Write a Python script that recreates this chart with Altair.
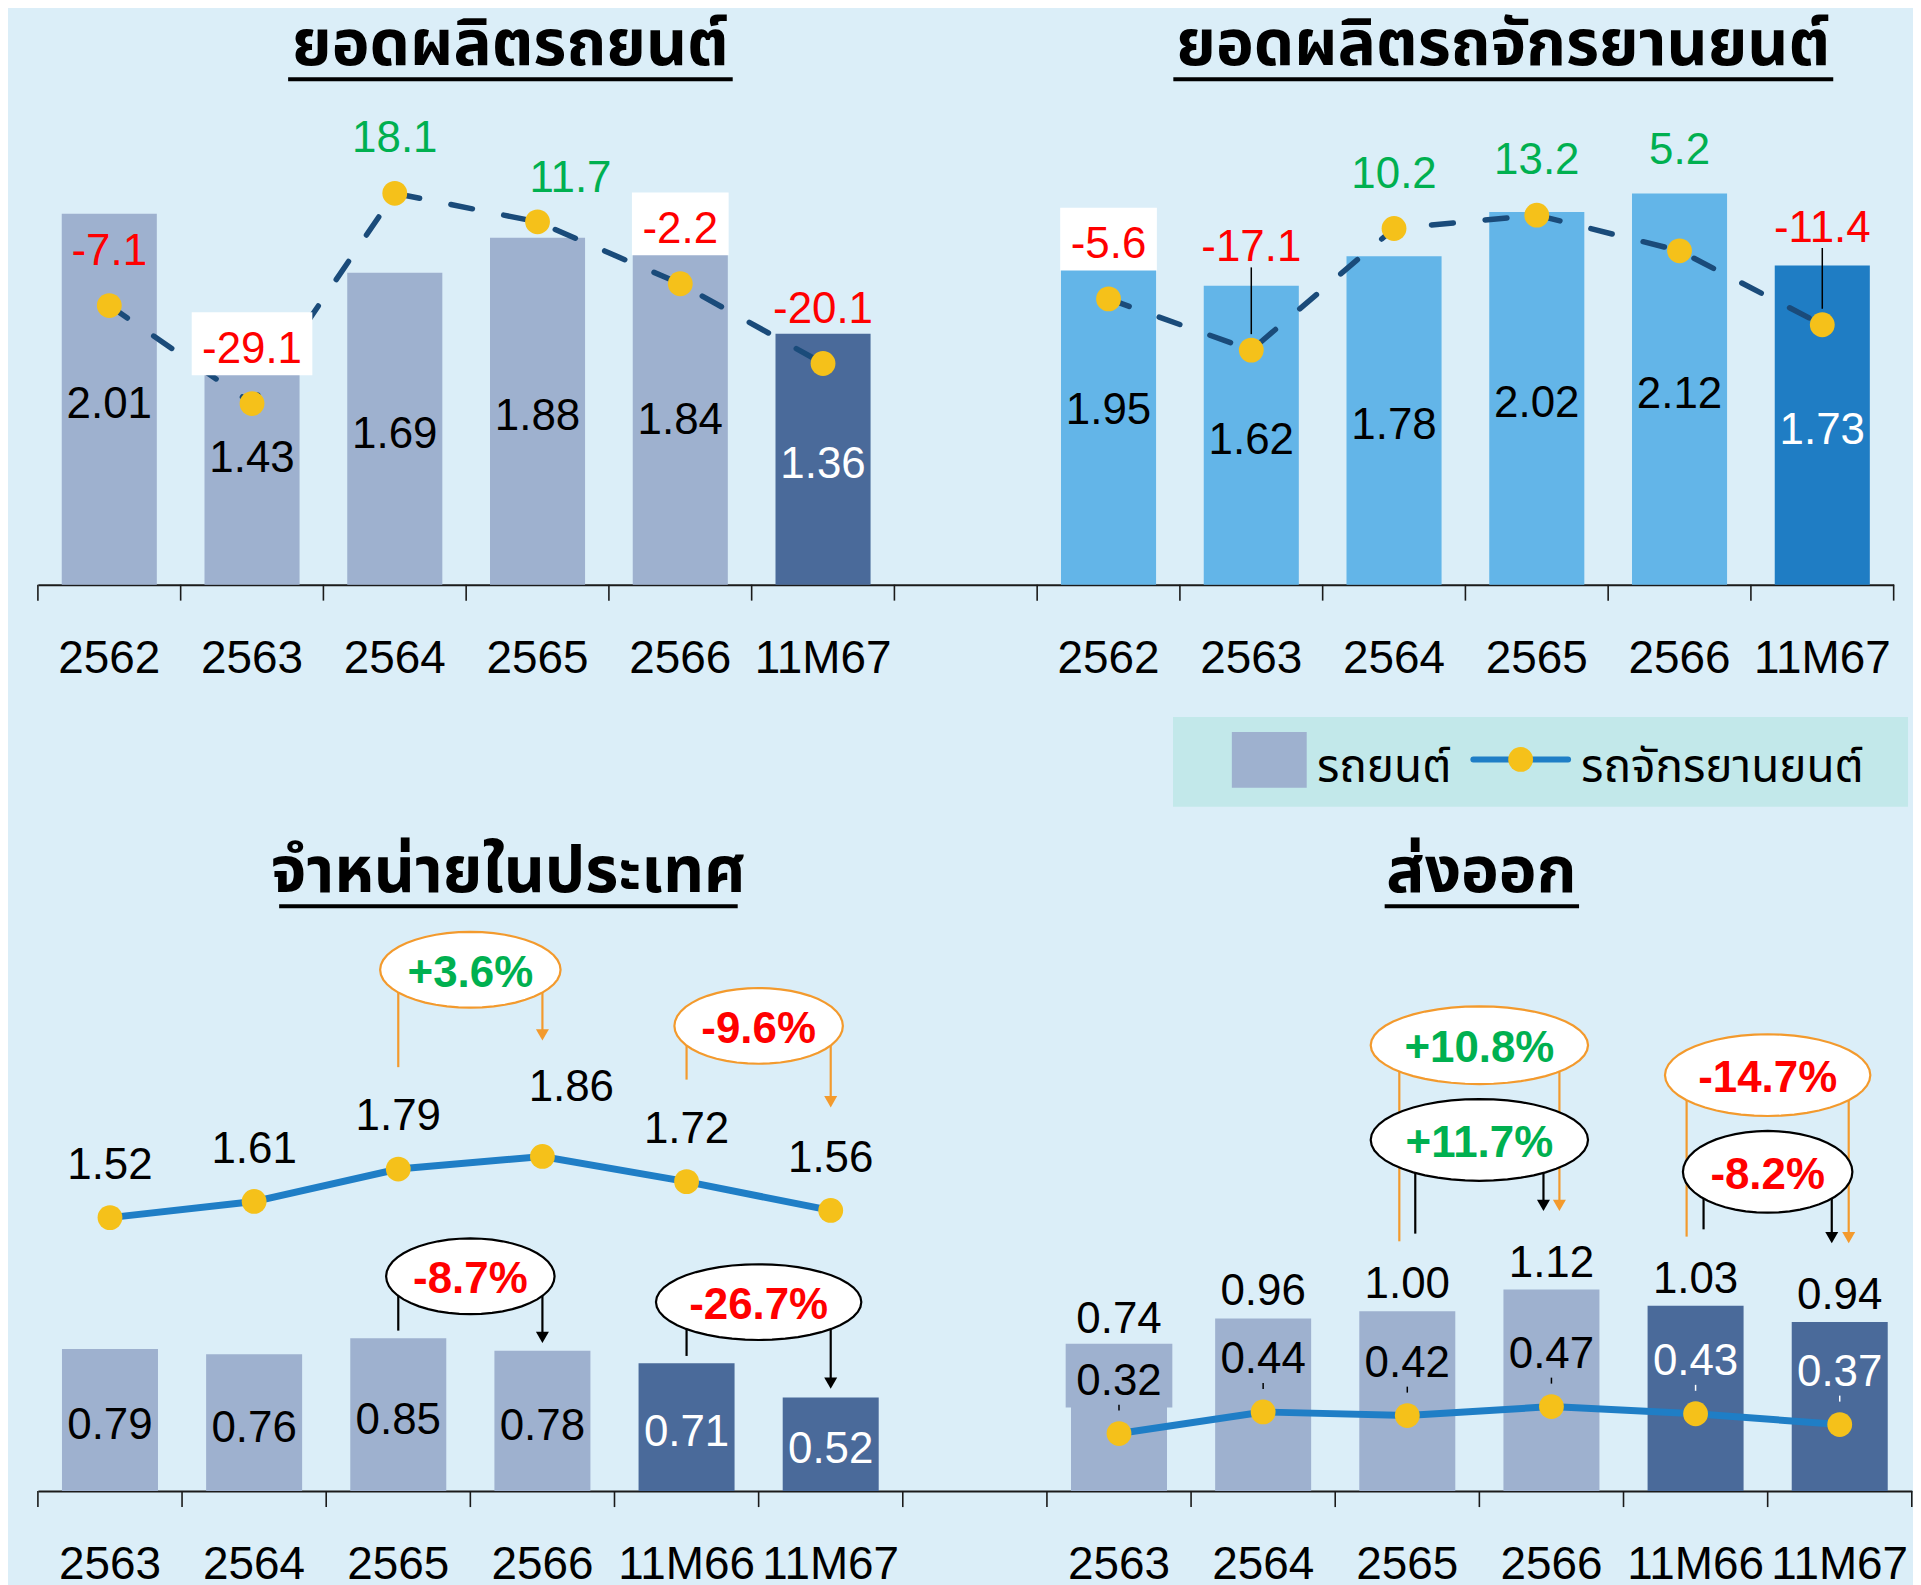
import math
import altair as alt
import pandas as pd

# ------------------------------------------------------------------ data
prod_years = ["2562", "2563", "2564", "2565", "2566", "11M67"]
car_prod = [2.01, 1.43, 1.69, 1.88, 1.84, 1.36]
car_prod_growth = [-7.1, -29.1, 18.1, 11.7, -2.2, -20.1]
moto_prod = [1.95, 1.62, 1.78, 2.02, 2.12, 1.73]
moto_prod_growth = [-5.6, -17.1, 10.2, 13.2, 5.2, -11.4]

sales_years = ["2563", "2564", "2565", "2566", "11M66", "11M67"]
car_domestic = [0.79, 0.76, 0.85, 0.78, 0.71, 0.52]
moto_domestic = [1.52, 1.61, 1.79, 1.86, 1.72, 1.56]
car_export = [0.74, 0.96, 1.00, 1.12, 1.03, 0.94]
moto_export = [0.32, 0.44, 0.42, 0.47, 0.43, 0.37]

panel_titles = ["ยอดผลิตรถยนต์", "ยอดผลิตรถจักรยานยนต์", "จำหน่ายในประเทศ", "ส่งออก"]
legend_labels = ["รถยนต์", "รถจักรยานยนต์"]

ann_panel = ["dom", "dom", "dom", "dom", "exp", "exp", "exp", "exp"]
ann_from = ["2565", "11M66", "2565", "11M66", "2565", "2565", "11M66", "11M66"]
ann_to = ["2566", "11M67", "2566", "11M67", "2566", "2566", "11M67", "11M67"]
ann_text = ["+3.6%", "-9.6%", "-8.7%", "-26.7%", "+10.8%", "+11.7%", "-14.7%", "-8.2%"]
ann_series = ["moto", "moto", "car", "car", "moto", "car", "moto", "car"]

# ------------------------------------------------------------------ style / layout
BG = "#dbeef8"
NUM_FONT = "Liberation Sans"
THAI_FONT = "Noto Sans Thai, Tahoma, sans-serif"
RED, GREEN, ORANGE = "#ff0000", "#00b050", "#f39a2d"
GOLD, NAVY, BLUE = "#f5c11a", "#1a4b7a", "#1f7ec6"
FILLS = {("car", False): "#9eb1cf", ("car", True): "#4a6a9a",
         ("moto", False): "#63b5e8", ("moto", True): "#1f7dc4"}
FS = 44
MID = 3
ZW = "\u200b"                 # invisible suffix: keeps the two panels' categories distinct

OX = 37
T_STEP, B_STEP = 143.2, 144.6
T_W, B_W = 13 * T_STEP, 13 * B_STEP
T_TOP, T_BASE = 8, 584
L_BASE = 816
B_BASE = 1493.3
T_H, L_H, B_H = T_BASE - T_TOP, L_BASE - T_BASE, B_BASE - L_BASE
T_PX, G_PX, B_PX = 185.1, 4.468, 180.5
G_ZERO = 272.3 - T_TOP


def key(side, y):
    return y if side == 0 else y + ZW


T_DOMAIN = [key(0, y) for y in prod_years] + [ZW * 2] + [key(1, y) for y in prod_years]
B_DOMAIN = [key(0, y) for y in sales_years] + [ZW * 2] + [key(1, y) for y in sales_years]

AXIS = alt.Axis(title=None, orient="bottom", ticks=False, domainColor="#1a1a1a", domainWidth=2,
                labelFont=NUM_FONT, labelFontSize=46, labelColor="black", labelPadding=52,
                labelAngle=0, grid=False)


def xt():
    return alt.X("cat:N", scale=alt.Scale(domain=T_DOMAIN, paddingInner=0, paddingOuter=0), axis=AXIS)


def xb():
    return alt.X("cat:N", scale=alt.Scale(domain=B_DOMAIN, paddingInner=0, paddingOuter=0), axis=AXIS)


Y_TV = alt.Scale(domain=[0, T_H / T_PX], nice=False, zero=False)
Y_TG = alt.Scale(domain=[(G_ZERO - T_H) / G_PX, G_ZERO / G_PX], nice=False, zero=False)
Y_B = alt.Scale(domain=[0, B_H / B_PX], nice=False, zero=False)


def em_width(s):
    w = {".": 0.278, "-": 0.333, "+": 0.584, "%": 0.889}
    return sum(w.get(c, 0.556) for c in s)


def ellipse_shape(w, h):
    r = h / w
    pts = [(math.cos(2 * math.pi * i / 48), r * math.sin(2 * math.pi * i / 48)) for i in range(48)]
    return "M" + "L".join(f"{x:.4f},{y:.4f}" for x, y in pts) + "Z"


one = pd.DataFrame({"k": [0]})


def tick_layers(domain, xenc, step, height):
    d = pd.DataFrame({"cat": domain})
    last = pd.DataFrame({"cat": domain[-1:]})
    return [
        alt.Chart(d).mark_rule(color="#1a1a1a", strokeWidth=1.6, xOffset=-step / 2).encode(
            x=xenc(), y=alt.value(height), y2=alt.value(height + 16)),
        alt.Chart(last).mark_rule(color="#1a1a1a", strokeWidth=1.6, xOffset=step / 2).encode(
            x=xenc(), y=alt.value(height), y2=alt.value(height + 16)),
    ]


# ------------------------------------------------------------------ top row
G_LIFT_DEFAULT = 57
G_LIFT = {("car", "11.7"): 46, ("moto", "-17.1"): 105, ("moto", "5.2"): 103, ("moto", "-11.4"): 99}
G_SHIFT = {("car", "11.7"): 33}
G_BOXED = {("car", "-29.1"), ("car", "-2.2"), ("moto", "-5.6")}
G_LEADER = {("moto", "-17.1"), ("moto", "-11.4")}

rows = []
for side, (series, vals, grow) in enumerate((("car", car_prod, car_prod_growth),
                                             ("moto", moto_prod, moto_prod_growth))):
    for y, v, g in zip(prod_years, vals, grow):
        dark = y.startswith("11M")
        gl = f"{g:.1f}"
        lift = G_LIFT.get((series, gl), G_LIFT_DEFAULT)
        rows.append(dict(cat=key(side, y), series=series, v=v, vmid=v / 2, vl=f"{v:.2f}",
                         fill=FILLS[(series, dark)], tc="white" if dark else "black",
                         g=g, gl=gl, gc=RED if g < 0 else GREEN, gly=g + lift / G_PX,
                         gdx=G_SHIFT.get((series, gl), 0),
                         boxed=(series, gl) in G_BOXED,
                         bw=round(em_width(gl) * FS + 21),
                         b1=g + (lift + MID - 31.5) / G_PX, b2=g + (lift + MID + 31.5) / G_PX,
                         leader=(series, gl) in G_LEADER,
                         ld1=g + (lift - 22) / G_PX, ld2=g + 16 / G_PX))
top = pd.DataFrame(rows)

tl = []
tl.append(alt.Chart(top).mark_bar(width=alt.RelativeBandSize(0.666)).encode(
    x=xt(), y=alt.Y("v:Q", scale=Y_TV, axis=None), color=alt.Color("fill:N", scale=None)))
tl += tick_layers(T_DOMAIN, xt, T_STEP, T_H)
tl.append(alt.Chart(top).mark_text(font=NUM_FONT, fontSize=FS, baseline="middle", dy=MID + 3).encode(
    x=xt(), y=alt.Y("vmid:Q", scale=Y_TV, axis=None), text="vl:N", color=alt.Color("tc:N", scale=None)))
tl.append(alt.Chart(top).mark_line(color=NAVY, strokeWidth=5.5, strokeDash=[22, 32],
                                   strokeCap="round").encode(
    x=xt(), y=alt.Y("g:Q", scale=Y_TG, axis=None), detail="series:N"))
for bw in sorted(set(top.loc[top["boxed"], "bw"])):
    sub = top[top["boxed"] & (top["bw"] == bw)]
    tl.append(alt.Chart(sub).mark_bar(width=int(bw), color="white").encode(
        x=xt(), y=alt.Y("b1:Q", scale=Y_TG, axis=None), y2="b2:Q"))
tl.append(alt.Chart(top).transform_filter("datum.leader").mark_rule(color="black", strokeWidth=1.5).encode(
    x=xt(), y=alt.Y("ld1:Q", scale=Y_TG, axis=None), y2="ld2:Q"))
tl.append(alt.Chart(top).mark_point(filled=True, color=GOLD, opacity=1, size=620).encode(
    x=xt(), y=alt.Y("g:Q", scale=Y_TG, axis=None)))
for gdx in sorted(set(top["gdx"])):
    sub = top[top["gdx"] == gdx]
    tl.append(alt.Chart(sub).mark_text(font=NUM_FONT, fontSize=FS, baseline="middle", dy=MID,
                                       dx=int(gdx)).encode(
        x=xt(), y=alt.Y("gly:Q", scale=Y_TG, axis=None), text="gl:N", color=alt.Color("gc:N", scale=None)))

TITLE_POS = [(511, 63, 288, 734, 77), (1507, 63, 1176, 1838, 77),
             (509, 892, 279, 739, 906.6), (1485, 892, 1388, 1583, 906.6)]


def title_layers(idx, y0):
    tx, ty, ux1, ux2, uy = TITLE_POS[idx]
    return [
        alt.Chart(one).mark_text(font=THAI_FONT, fontSize=64, fontWeight="bold", align="center",
                                 baseline="alphabetic", color="black").encode(
            x=alt.value(tx - OX), y=alt.value(ty - y0), text=alt.value(panel_titles[idx])),
        alt.Chart(one).mark_rule(color="black", strokeWidth=4).encode(
            x=alt.value(ux1 - OX), x2=alt.value(ux2 - OX), y=alt.value(uy - y0)),
    ]


tl += title_layers(0, T_TOP) + title_layers(1, T_TOP)
top_row = alt.layer(*tl).resolve_scale(y="independent").properties(width=T_W, height=T_H)

# ------------------------------------------------------------------ legend strip
lg = [
    alt.Chart(one).mark_rect(color="#c2e8ea").encode(
        x=alt.value(1175.7 - OX), x2=alt.value(1913 - OX),
        y=alt.value(716.7 - T_BASE), y2=alt.value(806.7 - T_BASE)),
    alt.Chart(one).mark_rect(color=FILLS[("car", False)]).encode(
        x=alt.value(1234.7 - OX), x2=alt.value(1309.8 - OX),
        y=alt.value(731.7 - T_BASE), y2=alt.value(787.7 - T_BASE)),
    alt.Chart(one).mark_rule(color=BLUE, strokeWidth=6, strokeCap="round").encode(
        x=alt.value(1477 - OX), x2=alt.value(1572 - OX), y=alt.value(759.3 - T_BASE)),
    alt.Chart(one).mark_point(filled=True, color=GOLD, opacity=1, size=620).encode(
        x=alt.value(1524.4 - OX), y=alt.value(759.3 - T_BASE)),
]
for lbl, lx in zip(legend_labels, (1320, 1585)):
    lg.append(alt.Chart(one).mark_text(font=THAI_FONT, fontSize=46, align="left", baseline="middle",
                                       color="black").encode(
        x=alt.value(lx - OX), y=alt.value(768 - T_BASE), text=alt.value(lbl)))
legend_row = alt.layer(*lg).properties(width=T_W, height=L_H)

# ------------------------------------------------------------------ bottom row
B_BAR_LIFT = {("exp", "2563"): 44}
B_LINE_LIFT = {("dom", "2566"): 72}
B_LINE_SHIFT = {("dom", "2566")}
B_BOXED = {("exp", "2563")}
rows = []
for side, (panel, cars, motos) in enumerate((("dom", car_domestic, moto_domestic),
                                             ("exp", car_export, moto_export))):
    for y, c, m in zip(sales_years, cars, motos):
        dark = y.startswith("11M")
        bl = B_BAR_LIFT.get((panel, y), 32)
        ll = B_LINE_LIFT.get((panel, y), 55)
        inside = panel == "exp" and dark
        rows.append(dict(cat=key(side, y), panel=panel, c=c, cl=f"{c:.2f}",
                         fill=FILLS[("car", dark)],
                         cy=(c / 2) if panel == "dom" else c + bl / B_PX,
                         cc="white" if (dark and panel == "dom") else "black",
                         m=m, ml=f"{m:.2f}", my=m + ll / B_PX,
                         mc="white" if inside else "black",
                         shift=(panel, y) in B_LINE_SHIFT,
                         boxed=(panel, y) in B_BOXED,
                         bw=round(em_width(f"{m:.2f}") * FS + 21),
                         b1=m + (ll + MID - 32) / B_PX, b2=m + (ll + MID + 32) / B_PX,
                         tick=panel == "exp", t1=m + 29 / B_PX, t2=m + 23 / B_PX))
bot = pd.DataFrame(rows)
SIDE = {"dom": 0, "exp": 1}

bl_ = []
bl_.append(alt.Chart(bot).mark_bar(width=alt.RelativeBandSize(0.666)).encode(
    x=xb(), y=alt.Y("c:Q", scale=Y_B, axis=None), color=alt.Color("fill:N", scale=None)))
bl_ += tick_layers(B_DOMAIN, xb, B_STEP, B_H)
for bw in sorted(set(bot.loc[bot["boxed"], "bw"])):
    sub = bot[bot["boxed"] & (bot["bw"] == bw)]
    bl_.append(alt.Chart(sub).mark_bar(width=int(bw), color=FILLS[("car", False)]).encode(
        x=xb(), y=alt.Y("b1:Q", scale=Y_B, axis=None), y2="b2:Q"))
bl_.append(alt.Chart(bot).mark_text(font=NUM_FONT, fontSize=FS, baseline="middle", dy=MID + 3).encode(
    x=xb(), y=alt.Y("cy:Q", scale=Y_B, axis=None), text="cl:N", color=alt.Color("cc:N", scale=None)))
bl_.append(alt.Chart(bot).mark_line(color=BLUE, strokeWidth=7).encode(
    x=xb(), y=alt.Y("m:Q", scale=Y_B, axis=None), detail="panel:N"))
bl_.append(alt.Chart(bot).transform_filter("datum.tick").mark_rule(strokeWidth=1.5).encode(
    x=xb(), y=alt.Y("t1:Q", scale=Y_B, axis=None), y2="t2:Q", color=alt.Color("mc:N", scale=None)))
bl_.append(alt.Chart(bot).mark_point(filled=True, color=GOLD, opacity=1, size=620).encode(
    x=xb(), y=alt.Y("m:Q", scale=Y_B, axis=None)))
bl_.append(alt.Chart(bot).transform_filter("!datum.shift").mark_text(
    font=NUM_FONT, fontSize=FS, baseline="middle", dy=MID).encode(
    x=xb(), y=alt.Y("my:Q", scale=Y_B, axis=None), text="ml:N", color=alt.Color("mc:N", scale=None)))
bl_.append(alt.Chart(bot).transform_filter("datum.shift").mark_text(
    font=NUM_FONT, fontSize=FS, baseline="middle", dy=MID, dx=29).encode(
    x=xb(), y=alt.Y("my:Q", scale=Y_B, axis=None), text="ml:N", color=alt.Color("mc:N", scale=None)))

ANN_LAYOUT = [
    (970.3, 181, 76, 1068, 1041.5, 0),
    (1026.6, 169, 76, 1080.5, 1108.7, 0),
    (1277.8, 169, 76, 1332.3, 1345, 0),
    (1303.7, 206, 76, 1357.7, 1391, 0),
    (1046, 218, 78, 1242.7, 1212.7, 8),
    (1141, 218, 82, 1235, 1212.7, -8),
    (1076, 206, 82, 1238, 1245, 9),
    (1173, 170, 82, 1230.7, 1245, -8),
]


def yv(page_y):
    return (B_BASE - page_y) / B_PX


ell_rows, line_rows, arrow_rows = [], [], []
for p, f, t, txt, s, (ey, ew, eh, lend, tip, off) in zip(
        ann_panel, ann_from, ann_to, ann_text, ann_series, ANN_LAYOUT):
    ring = ORANGE if s == "moto" else "black"
    tcol = GREEN if txt.startswith("+") else RED
    cf, ct = key(SIDE[p], f), key(SIDE[p], t)
    ell_rows.append(dict(cat=cf, y=yv(ey), shape=ellipse_shape(ew, eh), size=ew * ew,
                         ring=ring, txt=txt, tcol=tcol))
    line_rows.append(dict(cat=cf, y1=yv(ey), y2=yv(lend), ring=ring, off=-off))
    line_rows.append(dict(cat=ct, y1=yv(ey), y2=yv(tip - 6), ring=ring, off=off))
    arrow_rows.append(dict(cat=ct, y=yv(tip - 6), ring=ring, off=off))
ell = pd.DataFrame(ell_rows)
lines = pd.DataFrame(line_rows)
arrows = pd.DataFrame(arrow_rows)

for off in sorted(set(lines["off"])):
    sub = lines[lines["off"] == off]
    bl_.append(alt.Chart(sub).mark_rule(strokeWidth=2.2, xOffset=int(off)).encode(
        x=xb(), y=alt.Y("y1:Q", scale=Y_B, axis=None), y2="y2:Q", color=alt.Color("ring:N", scale=None)))
for off in sorted(set(arrows["off"])):
    sub = arrows[arrows["off"] == off]
    bl_.append(alt.Chart(sub).mark_point(filled=True, opacity=1, shape="triangle-down", size=170,
                                         xOffset=int(off)).encode(
        x=xb(), y=alt.Y("y:Q", scale=Y_B, axis=None), color=alt.Color("ring:N", scale=None)))
bl_.append(alt.Chart(ell).mark_point(filled=True, color="white", opacity=1, strokeWidth=2.2,
                                     xOffset=B_STEP / 2).encode(
    x=xb(), y=alt.Y("y:Q", scale=Y_B, axis=None),
    shape=alt.Shape("shape:N", scale=None), size=alt.Size("size:Q", scale=None),
    stroke=alt.Stroke("ring:N", scale=None)))
bl_.append(alt.Chart(ell).mark_text(font=NUM_FONT, fontSize=44, fontWeight="bold", baseline="middle",
                                    dy=MID + 1, xOffset=B_STEP / 2).encode(
    x=xb(), y=alt.Y("y:Q", scale=Y_B, axis=None), text="txt:N", color=alt.Color("tcol:N", scale=None)))

bl_ += title_layers(2, L_BASE) + title_layers(3, L_BASE)
bottom_row = alt.layer(*bl_).properties(width=B_W, height=B_H)

chart = alt.vconcat(top_row, legend_row, bottom_row, spacing=0, bounds="flush").properties(
    padding={"left": OX - 8, "top": 0, "right": 0, "bottom": 0}
).configure(background=BG).configure_view(strokeWidth=0)

chart.save("out.html", embed_options={"renderer": "svg", "actions": False})
